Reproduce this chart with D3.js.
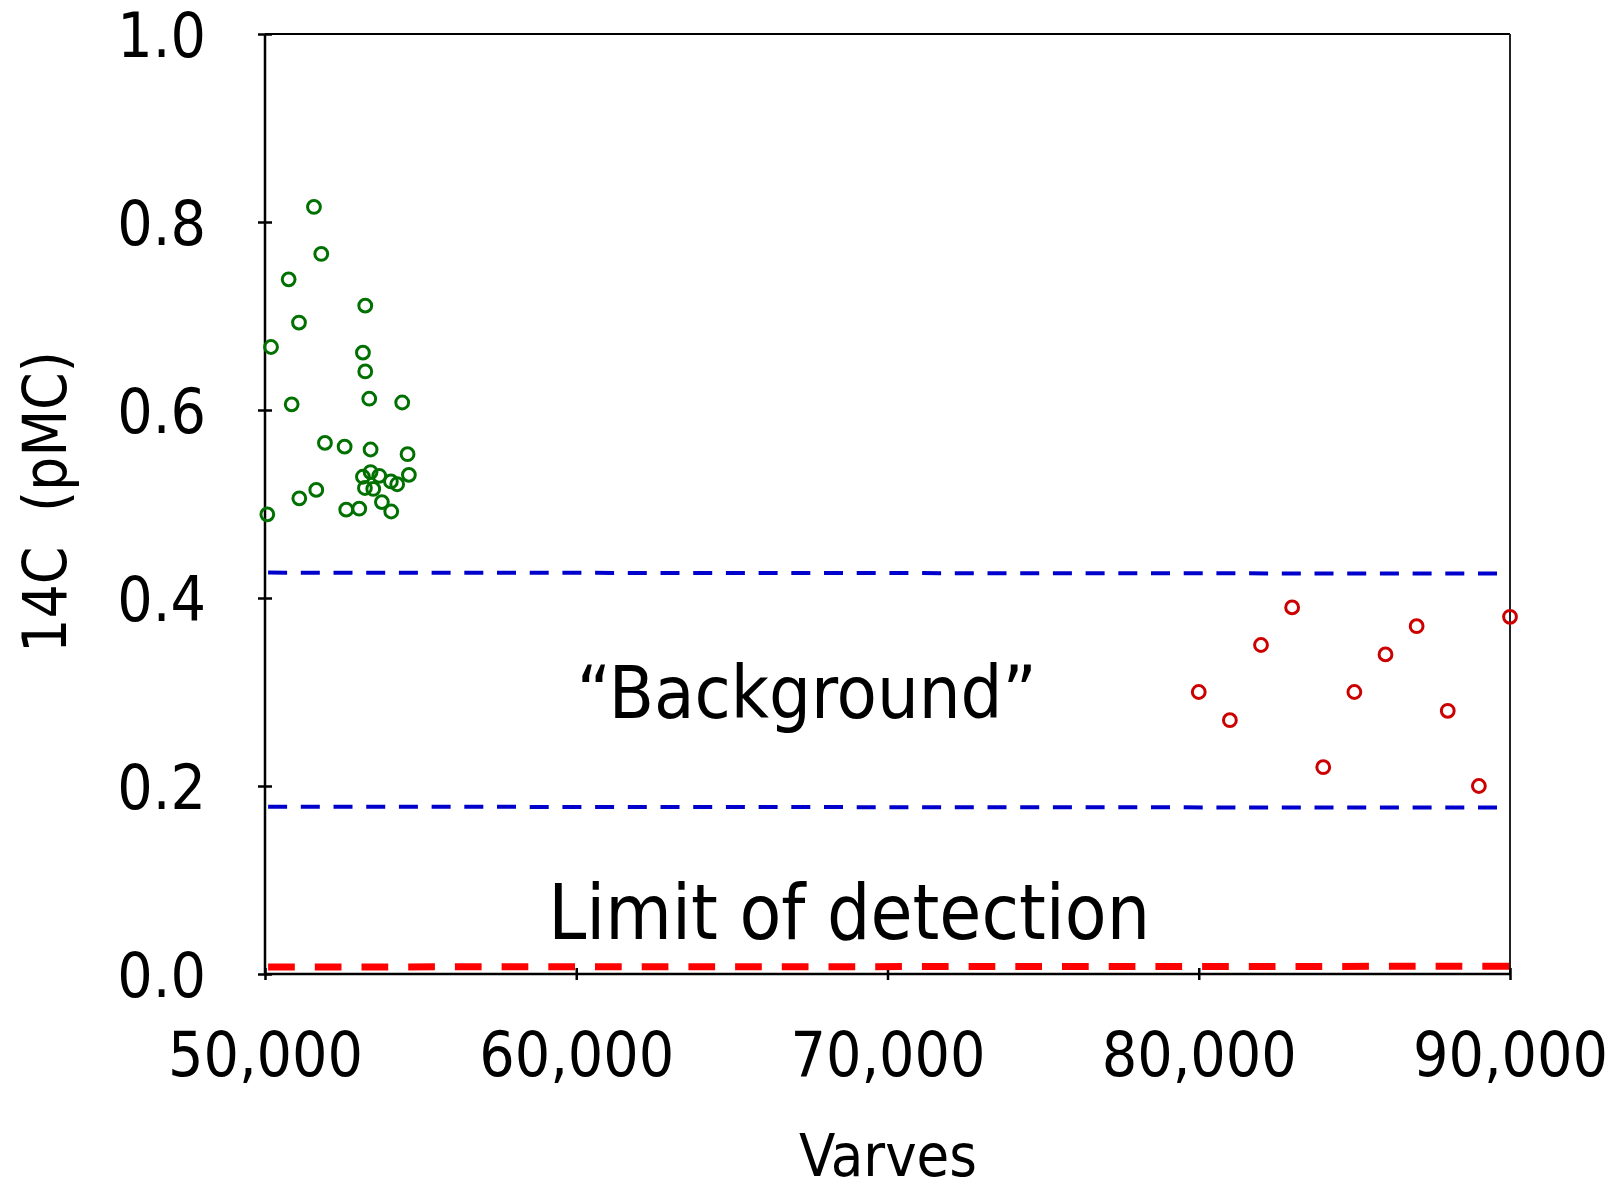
<!DOCTYPE html>
<html>
<head>
<meta charset="utf-8">
<script src="https://cdn.jsdelivr.net/npm/d3@7"></script>
<style>
  html, body { margin: 0; padding: 0; background: #fff; }
  svg { display: block; }
  text { font-family: "DejaVu Sans Condensed", "DejaVu Sans", sans-serif; font-stretch: condensed; fill: #000; }
</style>
</head>
<body>
<script>
// ---- data ----
const xTicks = [50000, 60000, 70000, 80000, 90000];
const yTicks = [0.0, 0.2, 0.4, 0.6, 0.8, 1.0];

const greenX = [51573, 51808, 50760, 53221, 51092, 50193, 53146, 53221, 50857, 53349,
                54408, 51926, 52558, 53392, 54580, 54623, 53392, 53670, 53146, 54045,
                54247, 53210, 53478, 51647, 51102, 53756, 52610, 53027, 54055, 50074];
const greenY = [0.816, 0.766, 0.739, 0.711, 0.693, 0.667, 0.661, 0.641, 0.606, 0.612,
                0.608, 0.565, 0.561, 0.558, 0.553, 0.531, 0.534, 0.530, 0.529, 0.524,
                0.521, 0.517, 0.516, 0.515, 0.506, 0.502, 0.494, 0.495, 0.492, 0.489];

const redX = [80000, 81000, 82000, 83000, 84000, 85000, 86000, 87000, 88000, 89000, 90000];
const redY = [0.30, 0.27, 0.35, 0.39, 0.22, 0.30, 0.34, 0.37, 0.28, 0.20, 0.38];

const lineX = [50100, 90000];
const bgUpperY = [0.427, 0.426];
const bgLowerY = [0.178, 0.177];
const lodY = [0.0075, 0.0082];

const xLabel = "Varves";
const yLabel = "14C\u00a0\u00a0(pMC)";
const bgLabel = "\u201cBackground\u201d";
const lodLabel = "Limit of detection";

// ---- layout ----
const W = 1621, H = 1191;
const m = { left: 265, right: W - 1510, top: 34, bottom: H - 974 };
const iw = W - m.left - m.right, ih = H - m.top - m.bottom;

const svg = d3.select("body").append("svg").attr("width", W).attr("height", H);
const g = svg.append("g").attr("transform", `translate(${m.left},${m.top})`);

const x = d3.scaleLinear().domain([50000, 90000]).range([0, iw]);
const y = d3.scaleLinear().domain([0, 1]).range([ih, 0]);

// box (top & right)
g.append("line").attr("x1", 0).attr("x2", iw).attr("y1", 0).attr("y2", 0)
  .attr("stroke", "#000").attr("stroke-width", 2);
g.append("line").attr("x1", iw).attr("x2", iw).attr("y1", 0).attr("y2", ih)
  .attr("stroke", "#222").attr("stroke-width", 2);

// axes
const yAxis = g.append("g")
  .call(d3.axisLeft(y).tickValues(yTicks).tickFormat(d3.format(".1f")).tickSize(7).tickPadding(52));
const xAxis = g.append("g").attr("transform", `translate(0,${ih})`)
  .call(d3.axisBottom(x).tickValues(xTicks).tickFormat(d3.format(",")).tickSize(6).tickPadding(52));

[yAxis, xAxis].forEach(ax => {
  ax.select(".domain").attr("stroke", "#000").attr("stroke-width", 2.5);
  ax.selectAll(".tick line").attr("stroke", "#000").attr("stroke-width", 2.5);
  ax.selectAll(".tick text").style("font-size", "62px").attr("fill", "#000");
});
yAxis.select(".domain").attr("d", `M0,0V${ih}`);
xAxis.select(".domain").attr("d", `M0,0H${iw}`);
yAxis.selectAll(".tick line").attr("x1", 7);
xAxis.selectAll(".tick line").attr("y1", -6);
yAxis.selectAll(".tick text").attr("dy", "0.36em");
xAxis.selectAll(".tick text").attr("dy", "0.71em");

// reference lines
const line = d3.line().x(d => x(d[0])).y(d => y(d[1]));
function refLine(ys, color, width, dash) {
  g.append("path").datum(lineX.map((v, i) => [v, ys[i]]))
    .attr("d", line).attr("fill", "none")
    .attr("stroke", color).attr("stroke-width", width).attr("stroke-dasharray", dash);
}
refLine(bgUpperY, "#0000cc", 4, "19,13.7");
refLine(bgLowerY, "#0000cc", 4, "19,13.7");
refLine(lodY, "#ff0000", 7, "26.7,20");

// points
g.append("g").selectAll("circle").data(greenX.map((v, i) => [v, greenY[i]]))
  .join("circle").attr("cx", d => x(d[0])).attr("cy", d => y(d[1])).attr("r", 6.4)
  .attr("fill", "none").attr("stroke", "#007000").attr("stroke-width", 3);
g.append("g").selectAll("circle").data(redX.map((v, i) => [v, redY[i]]))
  .join("circle").attr("cx", d => x(d[0])).attr("cy", d => y(d[1])).attr("r", 6.4)
  .attr("fill", "none").attr("stroke", "#cc0000").attr("stroke-width", 3);

// annotations
function fit(t, target) {
  const w = t.node().getComputedTextLength();
  const fs = parseFloat(t.style("font-size"));
  t.style("font-size", (fs * target / w) + "px");
}
const bg = g.append("text").attr("x", x(60020)).attr("y", y(0.272))
  .style("font-size", "66px").text(bgLabel);
fit(bg, 460);
const lod = g.append("text").attr("x", x(59100)).attr("y", y(0.037))
  .style("font-size", "66px").text(lodLabel);
fit(lod, 602);

// axis titles
const xt = svg.append("text").attr("x", 888).attr("y", 1176).attr("text-anchor", "middle")
  .style("font-size", "62px").text(xLabel);
fit(xt, 178);
const yt = svg.append("text").attr("transform", `translate(66,502) rotate(-90)`)
  .attr("text-anchor", "middle").style("font-size", "62px").text(yLabel);
fit(yt, 302);
</script>
</body>
</html>
